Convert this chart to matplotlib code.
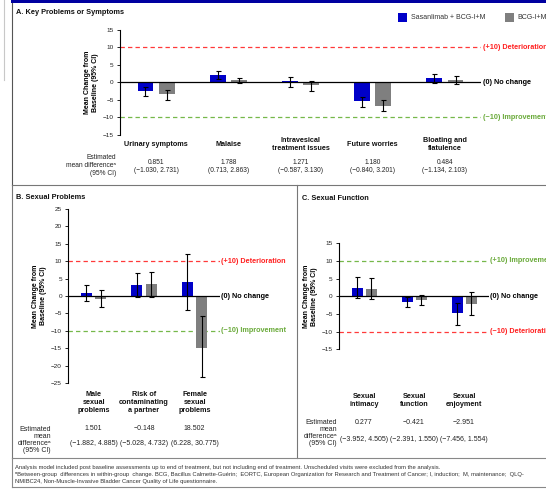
import numpy as np
import matplotlib
matplotlib.use("Agg")
import matplotlib.pyplot as plt
import matplotlib.transforms as mtransforms
from matplotlib.patches import Rectangle
from matplotlib.lines import Line2D

plt.rcParams['font.family'] = ['Liberation Sans', 'DejaVu Sans']

W, H = 546, 490

# A. Key problems or symptoms
a_categories = ["Urinary symptoms", "Malaise", "Intravesical\ntreatment issues",
                "Future worries", "Bloating and\nflatulence"]
a_sas = [-2.6, 2.2, 0.4, -5.4, 1.2]
a_sas_lo = [-3.9, 0.9, -1.3, -7.1, -0.1]
a_sas_hi = [-1.3, 3.1, 1.6, -4.1, 2.4]
a_bcg = [-3.3, 0.7, -0.8, -6.7, 0.7]
a_bcg_lo = [-5.0, -0.3, -2.4, -8.3, -0.5]
a_bcg_hi = [-2.2, 1.2, 0.4, -5.2, 1.9]
a_diff = ["0.851", "1.788", "1.271", "1.180", "0.484"]
a_ci = ["(\u22121.030, 2.731)", "(0.713, 2.863)", "(\u22120.587, 3.130)",
        "(\u22120.840, 3.201)", "(\u22121.134, 2.103)"]

# B. Sexual problems
b_categories = ["Male\nsexual\nproblems", "Risk of\ncontaminating\na partner",
                "Female\nsexual\nproblems"]
b_sas = [0.8, 3.1, 3.9]
b_sas_lo = [-1.5, -0.2, -4.0]
b_sas_hi = [3.3, 6.7, 12.1]
b_bcg = [-0.8, 3.4, -14.8]
b_bcg_lo = [-3.1, -0.2, -23.4]
b_bcg_hi = [1.8, 6.9, -5.8]
b_diff = ["1.501", "\u22120.148", "18.502"]
b_ci = ["(\u22121.882, 4.885)", "(\u22125.028, 4.732)", "(6.228, 30.775)"]

# C. Sexual function
c_categories = ["Sexual\nintimacy", "Sexual\nfunction", "Sexual\nenjoyment"]
c_sas = [2.4, -1.5, -4.8]
c_sas_lo = [-0.6, -2.9, -8.2]
c_sas_hi = [5.4, -0.2, -2.0]
c_bcg = [2.2, -1.0, -2.1]
c_bcg_lo = [-0.8, -2.5, -5.3]
c_bcg_hi = [5.1, 0.3, 1.1]
c_diff = ["0.277", "\u22120.421", "\u22122.951"]
c_ci = ["(\u22123.952, 4.505)", "(\u22122.391, 1.550)", "(\u22127.456, 1.554)"]

BLUE = '#0000c8'
GREY = '#7f7f7f'
RED = '#ff3a3a'
GREEN = '#76b84a'

fig = plt.figure(figsize=(W / 100, H / 100), dpi=100)


def fy(y):
    return 1 - y / H


def fx(x):
    return x / W


def axes_px(x0, y0, x1, y1):
    return fig.add_axes([fx(x0), fy(y1), fx(x1) - fx(x0), fy(y0) - fy(y1)])


def draw_panel(ax, sas, sas_lo, sas_hi, bcg, bcg_lo, bcg_hi, ylim, yticks,
               width, offset, top_label, bot_label, top_col, bot_col, fs):
    x = np.arange(len(sas))
    sas, bcg = np.array(sas), np.array(bcg)
    ax.bar(x - offset, sas, width, color=BLUE, zorder=2)
    ax.bar(x + offset, bcg, width, color=GREY, zorder=2)
    ax.errorbar(x - offset, sas, yerr=[sas - np.array(sas_lo), np.array(sas_hi) - sas],
                fmt='none', ecolor='black', elinewidth=0.8, capsize=1.8, capthick=0.8, zorder=3)
    ax.errorbar(x + offset, bcg, yerr=[bcg - np.array(bcg_lo), np.array(bcg_hi) - bcg],
                fmt='none', ecolor='black', elinewidth=0.8, capsize=1.8, capthick=0.8, zorder=3)
    ax.set_xlim(-0.5, len(sas) - 0.5)
    ax.set_ylim(*ylim)
    ax.set_yticks(yticks)
    ax.tick_params(axis='y', labelsize=4.6, length=2, width=0.6, pad=2.5, labelcolor='#222222')
    ax.set_xticks([])
    for s in ['top', 'right', 'bottom']:
        ax.spines[s].set_visible(False)
    ax.spines['left'].set_linewidth(0.8)
    ax.patch.set_alpha(0)
    ax.axhline(0, color='black', lw=0.9, zorder=4)
    ax.axhline(10, color=RED if top_col == 'r' else GREEN, lw=0.9, ls=(0, (3.5, 2.5)), zorder=1)
    ax.axhline(-10, color=RED if bot_col == 'r' else GREEN, lw=0.9, ls=(0, (3.5, 2.5)), zorder=1)
    tr = ax.get_yaxis_transform()
    ax.text(1.006, 10, top_label, transform=tr, fontsize=fs, fontweight='bold',
            color='#ff2020' if top_col == 'r' else '#6aaa3a', va='center', ha='left', clip_on=False)
    ax.text(1.006, 0, "(0) No change", transform=tr, fontsize=fs, fontweight='bold',
            color='black', va='center', ha='left', clip_on=False)
    ax.text(1.006, -10, bot_label, transform=tr, fontsize=fs, fontweight='bold',
            color='#ff2020' if bot_col == 'r' else '#6aaa3a', va='center', ha='left', clip_on=False)
    ax.set_ylabel("Mean Change from\nBaseline (95% CI)", fontsize=5, fontweight='bold',
                  labelpad=3, linespacing=1.1)


def cat_text(ax, labels, y, fs, ls):
    tr = mtransforms.blended_transform_factory(ax.transData, fig.transFigure)
    for i, lab in enumerate(labels):
        fig.text(i, fy(y), lab, transform=tr, ha='center', va='center', fontsize=fs,
                 fontweight='bold', linespacing=ls, color='#111111')


def value_text(ax, vals, y, fs):
    tr = mtransforms.blended_transform_factory(ax.transData, fig.transFigure)
    for i, v in enumerate(vals):
        fig.text(i, fy(y), v, transform=tr, ha='center', va='center', fontsize=fs, color='#222222')


# frames
frame = fig.add_axes([0, 0, 1, 1])
frame.set_xlim(0, W)
frame.set_ylim(H, 0)
frame.axis('off')
frame.add_patch(Rectangle((11, 0), W, 3.2, color='#0000a0', lw=0))
frame.add_line(Line2D([3.5, 3.5], [0, 80], color='#c8c8c8', lw=0.8))
frame.add_line(Line2D([11.5, 11.5], [3, 185], color='#555555', lw=0.8))
frame.add_line(Line2D([11.5, W], [185, 185], color='#777777', lw=0.8))
frame.add_line(Line2D([11.5, 11.5], [185, 458], color='#777777', lw=0.8))
frame.add_line(Line2D([297, 297], [185, 458], color='#777777', lw=0.8))
frame.add_line(Line2D([11.5, W], [458, 458], color='#888888', lw=0.8))
frame.add_line(Line2D([11.5, 11.5], [458, 487], color='#888888', lw=0.8))
frame.add_line(Line2D([11.5, W], [487, 487], color='#888888', lw=0.8))

fig.text(fx(16), fy(13), "A. Key Problems or Symptoms", fontsize=5.3, fontweight='bold',
         va='center', ha='left', color='#111111')
fig.text(fx(16), fy(197.5), "B. Sexual Problems", fontsize=5.3, fontweight='bold',
         va='center', ha='left', color='#111111')
fig.text(fx(302), fy(198), "C. Sexual Function", fontsize=5.3, fontweight='bold',
         va='center', ha='left', color='#111111')

# legend
frame.add_patch(Rectangle((398, 12.8), 8.8, 8.8, color=BLUE, lw=0))
fig.text(fx(411), fy(17.3), "Sasanlimab + BCG-I+M", fontsize=5, va='center', ha='left', color='#333333')
frame.add_patch(Rectangle((505, 12.8), 8.8, 8.8, color=GREY, lw=0))
fig.text(fx(517), fy(17.3), "BCG-I+M", fontsize=5, va='center', ha='left', color='#333333')

# panel A
ax_a = axes_px(120, 30, 481, 134.5)
draw_panel(ax_a, a_sas, a_sas_lo, a_sas_hi, a_bcg, a_bcg_lo, a_bcg_hi, (-15, 15),
           [-15, -10, -5, 0, 5, 10, 15], 0.22, 0.147,
           "(+10) Deterioration", "(\u221210) Improvement", 'r', 'g', 5.2)
cat_text(ax_a, a_categories, 144.4, 5.2, 1.25)
value_text(ax_a, a_diff, 162.5, 4.8)
value_text(ax_a, a_ci, 170, 4.8)
fig.text(fx(116), fy(165.3), "Estimated\nmean difference\u1d43\n(95% CI)", fontsize=4.8,
         ha='right', va='center', linespacing=1.15, color='#222222')

# panel B
ax_b = axes_px(68.3, 209, 219.8, 383)
draw_panel(ax_b, b_sas, b_sas_lo, b_sas_hi, b_bcg, b_bcg_lo, b_bcg_hi, (-25, 25),
           list(range(-25, 30, 5)), 0.22, 0.142,
           "(+10) Deterioration", "(\u221210) Improvement", 'r', 'g', 5.2)
cat_text(ax_b, b_categories, 402, 5.2, 1.2)
value_text(ax_b, b_diff, 429, 5)
value_text(ax_b, b_ci, 443.5, 5)
fig.text(fx(51), fy(440), "Estimated\nmean\ndifference\u1d43\n(95% CI)", fontsize=5,
         ha='right', va='center', linespacing=1.05, color='#222222')

# panel C
ax_c = axes_px(339, 243.3, 489, 349.3)
draw_panel(ax_c, c_sas, c_sas_lo, c_sas_hi, c_bcg, c_bcg_lo, c_bcg_hi, (-15, 15),
           [-15, -10, -5, 0, 5, 10, 15], 0.22, 0.14,
           "(+10) Improvement", "(\u221210) Deterioration", 'g', 'r', 5.2)
cat_text(ax_c, c_categories, 400.5, 5.2, 1.15)
value_text(ax_c, c_diff, 422, 5)
value_text(ax_c, c_ci, 439, 5)
fig.text(fx(337), fy(433), "Estimated\nmean\ndifference\u1d43\n(95% CI)", fontsize=5,
         ha='right', va='center', linespacing=1.05, color='#222222')

# footnotes
notes = [
    "Analysis model included post baseline assessments up to end of treatment, but not including end of treatment. "
    "Unscheduled visits were excluded from the analysis.",
    "\u1d43Between-group  differences in within-group  change. BCG, Bacillus Calmette-Gu\u00e9rin;  EORTC, European "
    "Organization for Research and Treatment of Cancer; I, induction;  M, maintenance;  QLQ-",
    "NMIBC24, Non-Muscle-Invasive Bladder Cancer Quality of Life questionnaire.",
]
for i, line in enumerate(notes):
    fig.text(fx(15), fy(467 + i * 7), line, fontsize=4.25, va='center', ha='left', color='#333333')

fig.savefig("out.png", dpi=100)
